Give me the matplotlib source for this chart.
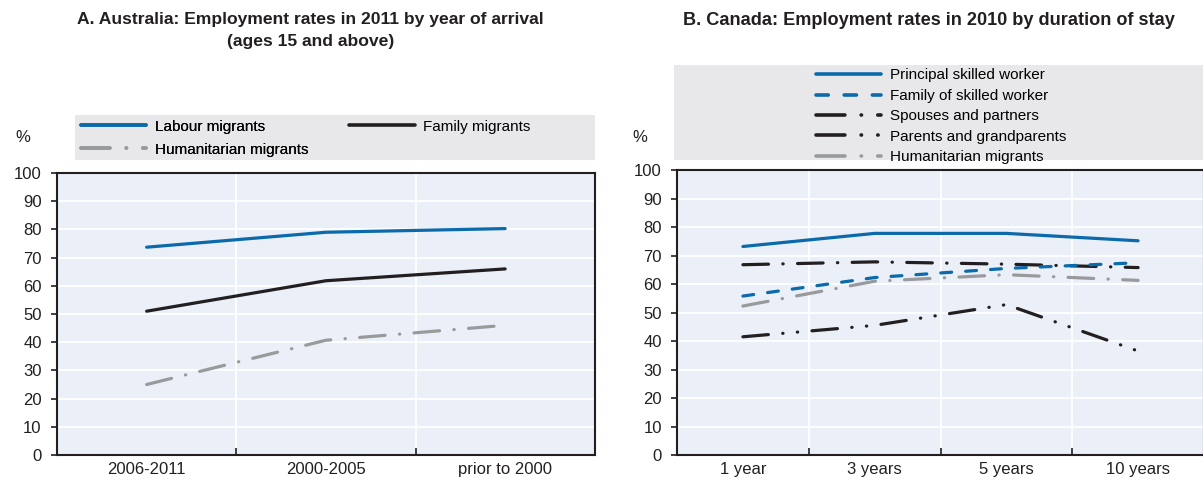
import matplotlib.pyplot as plt
from matplotlib.patches import Rectangle
from matplotlib.lines import Line2D

plt.rcParams['font.family'] = ['Liberation Sans Narrow', 'Liberation Sans', 'DejaVu Sans']

# Panel A: Australia, employment rate by year of arrival
aus_periods = ["2006-2011", "2000-2005", "prior to 2000"]
aus_labour = [73.7, 79.0, 80.3]
aus_family = [51.0, 61.8, 66.0]
aus_humanitarian = [25.0, 40.7, 46.0]

# Panel B: Canada, employment rate by duration of stay
can_stay = ["1 year", "3 years", "5 years", "10 years"]
can_principal = [73.2, 77.8, 77.8, 75.2]
can_family_skilled = [55.8, 62.3, 65.5, 67.5]
can_spouses = [66.8, 67.8, 67.0, 65.8]
can_parents = [41.5, 45.5, 52.8, 36.5]
can_humanitarian = [52.3, 61.0, 63.3, 61.3]

BLUE = "#0b6aab"
BLACK = "#231f20"
GREY = "#999a9c"
AX_BG = "#eaeff8"
LEG_BG = "#e8e8ea"
FS = 12
LEG_FS = 11
LW = 2.3

LS_HUM = (0, (8, 4.5, 0.1, 4.5))
LS_SPOUSE = (0, (8, 4.5, 0.1, 4.5))
LS_PARENT = (0, (8, 4.5, 0.1, 4.5, 0.1, 4.5))
LS_DASH = (0, (3.4, 4.4))

fig = plt.figure(figsize=(12.03, 4.82), dpi=100)


def style_axes(ax, n):
    ax.set_facecolor(AX_BG)
    ax.set_xlim(-0.5, n - 0.5)
    ax.set_ylim(0, 100)
    ax.set_yticks(range(0, 101, 10))
    ax.set_xticks(range(n))
    ax.set_xticks([i + 0.5 for i in range(n - 1)], minor=True)
    ax.grid(axis="y", color="white", lw=1.3)
    ax.grid(axis="x", which="minor", color="white", lw=1.3)
    ax.grid(axis="x", which="major", visible=False)
    ax.set_axisbelow(True)
    ax.tick_params(axis="x", which="major", length=0, labelsize=FS, pad=5, colors=BLACK)
    ax.tick_params(axis="x", which="minor", direction="in", length=5, width=1.2, color=BLACK)
    ax.tick_params(axis="y", length=4, width=1.2, labelsize=FS, colors=BLACK, pad=7)
    for s in ax.spines.values():
        s.set_color(BLACK)
        s.set_linewidth(1.5)


def line(ax, y, color, ls="-"):
    ax.plot(range(len(y)), y, color=color, lw=LW, ls=ls,
            solid_capstyle="round", dash_capstyle="round")


def handle(color, ls="-"):
    return Line2D([], [], color=color, lw=LW + 0.3, ls=ls,
                  solid_capstyle="round", dash_capstyle="round")


leg_kw = dict(frameon=False, fontsize=LEG_FS, handlelength=4.3, handletextpad=0.55,
              borderpad=0, borderaxespad=0)

# Panel A
axA = fig.add_axes([0.0474, 0.056, 0.447, 0.585])
style_axes(axA, len(aus_periods))
line(axA, aus_labour, BLUE)
line(axA, aus_family, BLACK)
line(axA, aus_humanitarian, GREY, LS_HUM)
axA.set_xticklabels(aus_periods)
fig.text(0.258, 0.975, "A. Australia: Employment rates in 2011 by year of arrival\n(ages 15 and above)",
         ha="center", va="top", fontsize=12.6, fontweight="bold", color=BLACK, linespacing=1.58)
fig.text(0.013, 0.715, "%", fontsize=FS, color=BLACK, ha="left", va="center")

fig.add_artist(Rectangle((0.0623, 0.668), 0.432, 0.093, transform=fig.transFigure,
                         facecolor=LEG_BG, edgecolor="none"))
legA1 = fig.legend([handle(BLUE), handle(GREY, LS_HUM)],
                   ["Labour migrants", "Humanitarian migrants"],
                   loc="upper left", bbox_to_anchor=(0.067, 0.752), labelspacing=0.6, **leg_kw)
fig.legend([handle(BLACK)], ["Family migrants"],
           loc="upper left", bbox_to_anchor=(0.290, 0.752), **leg_kw)
fig.add_artist(legA1)

# Panel B
axB = fig.add_axes([0.5628, 0.056, 0.438, 0.591])
style_axes(axB, len(can_stay))
line(axB, can_principal, BLUE)
line(axB, can_spouses, BLACK, LS_SPOUSE)
line(axB, can_parents, BLACK, LS_PARENT)
line(axB, can_humanitarian, GREY, LS_HUM)
line(axB, can_family_skilled, BLUE, LS_DASH)
axB.set_xticklabels(can_stay)
fig.text(0.7725, 0.975, "B. Canada: Employment rates in 2010 by duration of stay",
         ha="center", va="top", fontsize=13.1, fontweight="bold", color=BLACK)
fig.text(0.526, 0.715, "%", fontsize=FS, color=BLACK, ha="left", va="center")

fig.add_artist(Rectangle((0.560, 0.668), 0.44, 0.197, transform=fig.transFigure,
                         facecolor=LEG_BG, edgecolor="none"))
hB = [handle(BLUE), handle(BLUE, LS_DASH), handle(BLACK, LS_SPOUSE),
      handle(BLACK, LS_PARENT), handle(GREY, LS_HUM)]
lB = ["Principal skilled worker", "Family of skilled worker", "Spouses and partners",
      "Parents and grandparents", "Humanitarian migrants"]
fig.legend(hB, lB, loc="upper left", bbox_to_anchor=(0.678, 0.858), labelspacing=0.42, **leg_kw)

fig.savefig("out.png", dpi=100)
